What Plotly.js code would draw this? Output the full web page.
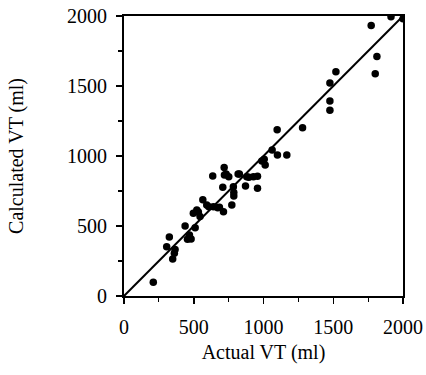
<!DOCTYPE html>
<html>
<head>
<meta charset="utf-8">
<script src="https://cdn.plot.ly/plotly-3.0.1.min.js"></script>
<style>html,body{margin:0;padding:0;background:#fff;}#chart{width:426px;height:375px;}</style>
</head>
<body>
<div id="chart"></div>
<script>
var actualVT = [210, 306, 325, 349, 361, 366, 438, 455, 469, 481, 497, 510, 522, 533, 545, 565, 593, 608, 636, 641, 672, 684, 708, 713, 718, 720, 732, 751, 773, 784, 787, 787, 818, 827, 871, 880, 895, 928, 957, 957, 988, 1005, 1012, 1062, 1098, 1100, 1167, 1280, 1476, 1476, 1476, 1519, 1772, 1801, 1813, 1914, 2000];
var calculatedVT = [98, 352, 421, 264, 305, 333, 500, 405, 436, 407, 591, 488, 614, 600, 567, 688, 650, 638, 857, 638, 631, 634, 776, 602, 917, 864, 871, 852, 650, 781, 740, 714, 871, 871, 786, 852, 848, 852, 855, 769, 964, 976, 936, 1043, 1188, 1007, 1007, 1202, 1521, 1393, 1326, 1602, 1933, 1588, 1710, 1995, 1980];
var identityX = [0, 2000];
var identityY = [0, 2000];
var tickVals = [0, 500, 1000, 1500, 2000];
var tickText = ['0', '500', '1000', '1500', '2000'];

var font = {family: 'Liberation Serif, Times New Roman, serif', size: 20, color: '#000'};
var traces = [
  {x: identityX, y: identityY, mode: 'lines', line: {color: '#000', width: 2}, hoverinfo: 'skip'},
  {x: actualVT, y: calculatedVT, mode: 'markers', marker: {color: '#000', size: 7.5}}
];
function axis(title, standoff, labelStandoff) {
  return {
    range: [0, 2000], tickvals: tickVals, ticktext: tickText,
    ticks: 'outside', ticklen: 6, tickwidth: 1.5, tickcolor: '#000',
    ticklabelstandoff: labelStandoff,
    minor: {dtick: 250, tick0: 0, ticks: 'outside', ticklen: 4, tickwidth: 1.2, tickcolor: '#000', showgrid: false},
    showline: true, linecolor: '#000', linewidth: 2, mirror: true,
    showgrid: false, zeroline: false, tickfont: font,
    title: {text: title, font: font, standoff: standoff}
  };
}
var layout = {
  width: 426, height: 375,
  margin: {l: 124, r: 23, t: 16, b: 79},
  paper_bgcolor: '#fff', plot_bgcolor: '#fff',
  showlegend: false, font: font,
  xaxis: axis('Actual VT (ml)', 8, 6),
  yaxis: axis('Calculated VT (ml)', 38, 5)
};
Plotly.newPlot('chart', traces, layout, {displayModeBar: false, staticPlot: true});
</script>
</body>
</html>
